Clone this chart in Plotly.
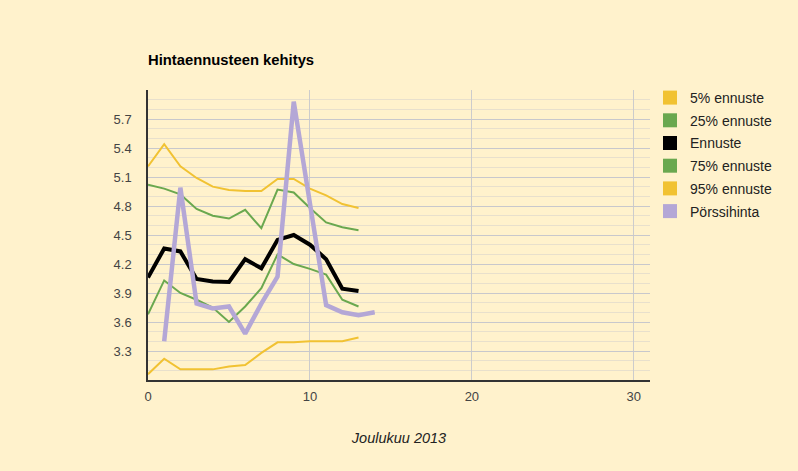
import plotly.graph_objects as go

days_fc = list(range(0, 14))
days_price = list(range(1, 15))

p5 = [3.06, 3.22, 3.11, 3.11, 3.11, 3.14, 3.155, 3.28, 3.39, 3.39, 3.40, 3.40, 3.40, 3.44]
p25 = [3.68, 4.03, 3.90, 3.83, 3.75, 3.60, 3.76, 3.95, 4.30, 4.20, 4.15, 4.09, 3.83, 3.76]
ennuste = [4.06, 4.36, 4.33, 4.045, 4.02, 4.015, 4.25, 4.155, 4.45, 4.50, 4.40, 4.25, 3.945, 3.92]
p75 = [5.02, 4.98, 4.92, 4.77, 4.70, 4.67, 4.76, 4.57, 4.97, 4.94, 4.78, 4.63, 4.58, 4.55]
p95 = [5.21, 5.44, 5.21, 5.09, 5.00, 4.965, 4.955, 4.955, 5.08, 5.08, 4.98, 4.91, 4.82, 4.78]
porssi = [3.40, 4.99, 3.79, 3.74, 3.76, 3.48, 3.79, 4.07, 5.88, 4.80, 3.775, 3.70, 3.67, 3.70]

y_ticks = [3.3, 3.6, 3.9, 4.2, 4.5, 4.8, 5.1, 5.4, 5.7]
x_ticks = [0, 10, 20, 30]

series = [
    ("5% ennuste", days_fc, p5, "#f1c232", 2),
    ("25% ennuste", days_fc, p25, "#6aa84f", 2),
    ("Ennuste", days_fc, ennuste, "#000000", 4),
    ("75% ennuste", days_fc, p75, "#6aa84f", 2),
    ("95% ennuste", days_fc, p95, "#f1c232", 2),
    ("Pörssihinta", days_price, porssi, "#b4a7d6", 4.5),
]

fig = go.Figure()
for name, xs, ys, color, w in series:
    fig.add_trace(go.Scatter(x=xs, y=ys, mode="lines", name=name,
                             line=dict(color=color, width=w),
                             showlegend=False, legendgroup=name,
                             hoverinfo="x+y"))
# legend swatches (squares)
for name, xs, ys, color, w in series:
    fig.add_trace(go.Scatter(x=[None], y=[None], mode="markers", name=name,
                             marker=dict(symbol="square", size=14, color=color),
                             showlegend=True, legendgroup=name))

bg = "#fff2cc"
fig.update_layout(
    width=798, height=471,
    paper_bgcolor=bg, plot_bgcolor=bg,
    margin=dict(l=148, r=148, t=90, b=91),
    font=dict(family="Liberation Sans, Arial, sans-serif", size=13, color="#444444"),
    title=dict(text="<b>Hintaennusteen kehitys</b>", x=148/798, xref="container",
               xanchor="left", y=1-60/471, yanchor="middle", yref="container",
               font=dict(size=14.8, color="#000000")),
    showlegend=True,
    legend=dict(x=1.01 - 5/502, xanchor="left", y=1.0 + 8/290, yanchor="top",
                font=dict(size=14, color="#222222"),
                tracegroupgap=1.5, bgcolor="rgba(0,0,0,0)"),
    xaxis=dict(range=[0, 31], tickvals=x_ticks, showgrid=True,
               gridcolor="#cccccc", gridwidth=1, zeroline=False,
               showline=True, linecolor="#333333", linewidth=1.5,
               ticks="", ticklabelstandoff=4, tickfont=dict(size=13, color="#444444"),
               title=dict(text="<i>Joulukuu 2013</i>", standoff=30,
                          font=dict(size=14.5, color="#222222"))),
    yaxis=dict(range=[3.0, 6.0], tickvals=y_ticks, ticktext=[f"{v:.1f}" for v in y_ticks],
               showgrid=True, gridcolor="#c8c8cc", gridwidth=1, zeroline=False,
               showline=True, linecolor="#333333", linewidth=1.5,
               ticks="", ticklabelstandoff=12, tickfont=dict(size=13, color="#444444"),
               minor=dict(dtick=0.1, tick0=3.0, showgrid=True, gridcolor="#e8e0cc", gridwidth=1)),
)

fig.write_html("out.html", config={"displayModeBar": False},
               post_script="document.body.style.margin='0';document.body.style.padding='0';")
